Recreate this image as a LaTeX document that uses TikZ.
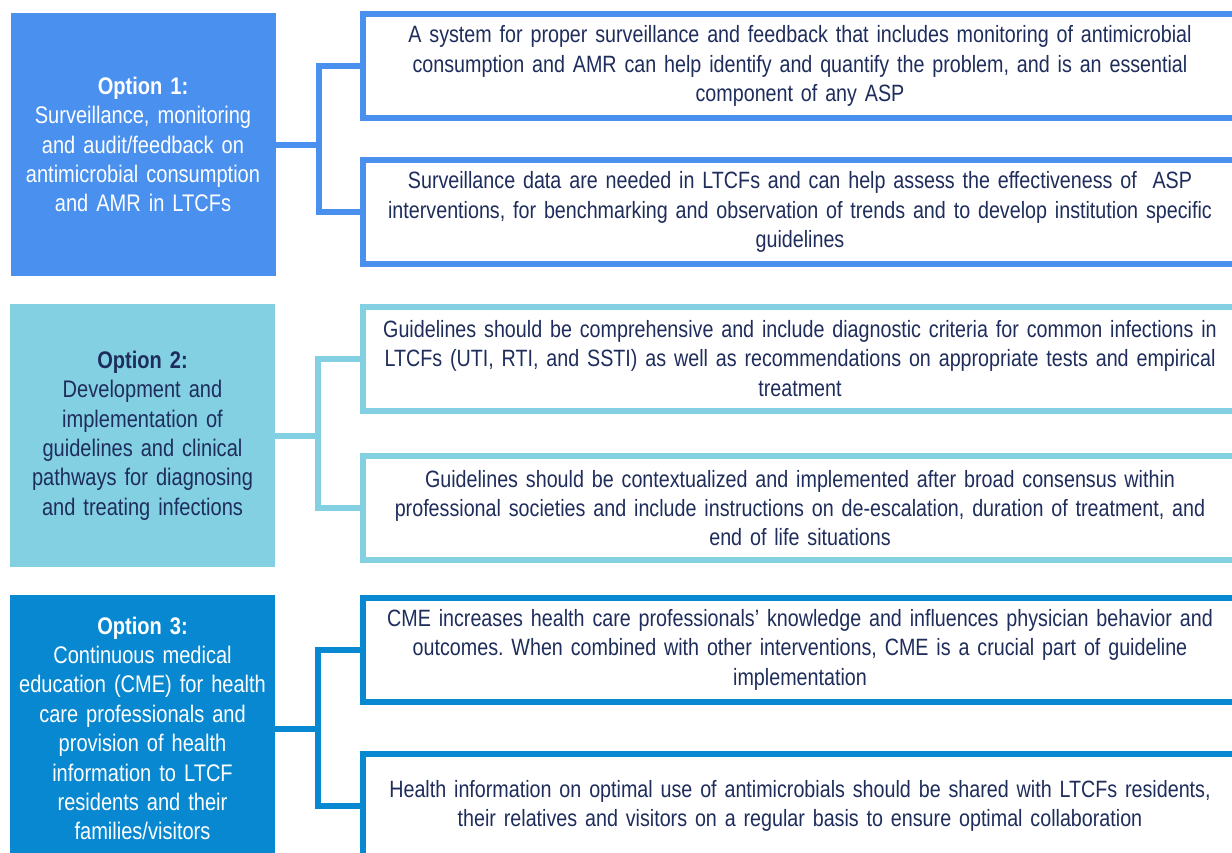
\documentclass[tikz,border=0pt]{standalone}
\usepackage{fontspec}
\setmainfont[FakeStretch=0.835]{Liberation Sans}
\definecolor{optone}{HTML}{4A90EE}
\definecolor{opttwo}{HTML}{82D0E2}
\definecolor{optthree}{HTML}{0888D0}
\definecolor{navy}{HTML}{1F2D5C}
\frenchspacing
\newcommand\detailfont{\fontsize{23.6}{29.4}\selectfont\fontdimen2\font=4pt\relax}

\begin{document}
\begin{tikzpicture}[x=1pt, y=-1pt,
    option/.style = {fill=#1, minimum width=265pt, minimum height=263pt, text width=262pt,
        align=center, inner sep=0pt, font=\fontsize{24}{29.4}\selectfont},
    detail/.style = {draw=#1, line width=6pt, fill=white, minimum width=874pt, minimum height=104pt,
        text width=866pt, align=center, inner sep=0pt, text=navy, font=\detailfont},
    link/.style = {draw=#1, line width=6pt}]
    % Page
    \clip (0,0) rectangle (1232,852);
    \fill[white] (0,0) rectangle (1232,852);

    % Options on the left
    \node[option=optone, text=white] (opt1) at (143,144.5)
        {\textbf{Option 1:}\\ Surveillance, monitoring\\ and audit/feedback on\\ antimicrobial consumption\\ and AMR in LTCFs};
    \node[option=opttwo, text=navy] (opt2) at (142.5,435.5)
        {\textbf{Option 2:}\\ Development and\\ implementation of\\ guidelines and clinical\\ pathways for diagnosing\\ and treating infections};
    \node[option=optthree, text=white, minimum height=267pt] (opt3) at (142.5,728.5)
        {\textbf{Option 3:}\\ Continuous medical\\ education (CME) for health\\ care professionals and\\ provision of health\\ information to LTCF\\ residents and their\\ families/visitors};

    % Details on the right
    \node[detail=optone] (a1) at (800,66)
        {A system for proper surveillance and feedback that includes monitoring of antimicrobial\\ consumption and AMR can help identify and quantify the problem, and is an essential\\ component of any ASP};
    \node[detail=optone] (b1) at (800,212)
        {Surveillance data are needed in LTCFs and can help assess the effectiveness of \ ASP\\ interventions, for benchmarking and observation of trends and to develop institution specific\\ guidelines};
    \node[detail=opttwo] (a2) at (800,358.5)
        {Guidelines should be comprehensive and include diagnostic criteria for common infections in\\ LTCFs (UTI, RTI, and SSTI) as well as recommendations on appropriate tests and empirical\\ treatment};
    \node[detail=opttwo] (b2) at (800,508)
        {Guidelines should be contextualized and implemented after broad consensus within\\ professional societies and include instructions on de-escalation, duration of treatment, and\\ end of life situations};
    \node[detail=optthree] (a3) at (800,649.5)
        {CME increases health care professionals’ knowledge and influences physician behavior and\\ outcomes. When combined with other interventions, CME is a crucial part of guideline\\ implementation};
    \node[detail=optthree] (b3) at (800,806)
        {Health information on optimal use of antimicrobials should be shared with LTCFs residents,\\ their relatives and visitors on a regular basis to ensure optimal collaboration};

    % Connectors
    \foreach \r/\c in {1/optone, 2/opttwo, 3/optthree} {
        \draw[link=\c] (opt\r.east) -- ++(43,0) coordinate (j\r);
        \draw[link=\c] (a\r.west) -| (j\r);
        \draw[link=\c] (b\r.west) -| (j\r);
    }
\end{tikzpicture}
\end{document}
